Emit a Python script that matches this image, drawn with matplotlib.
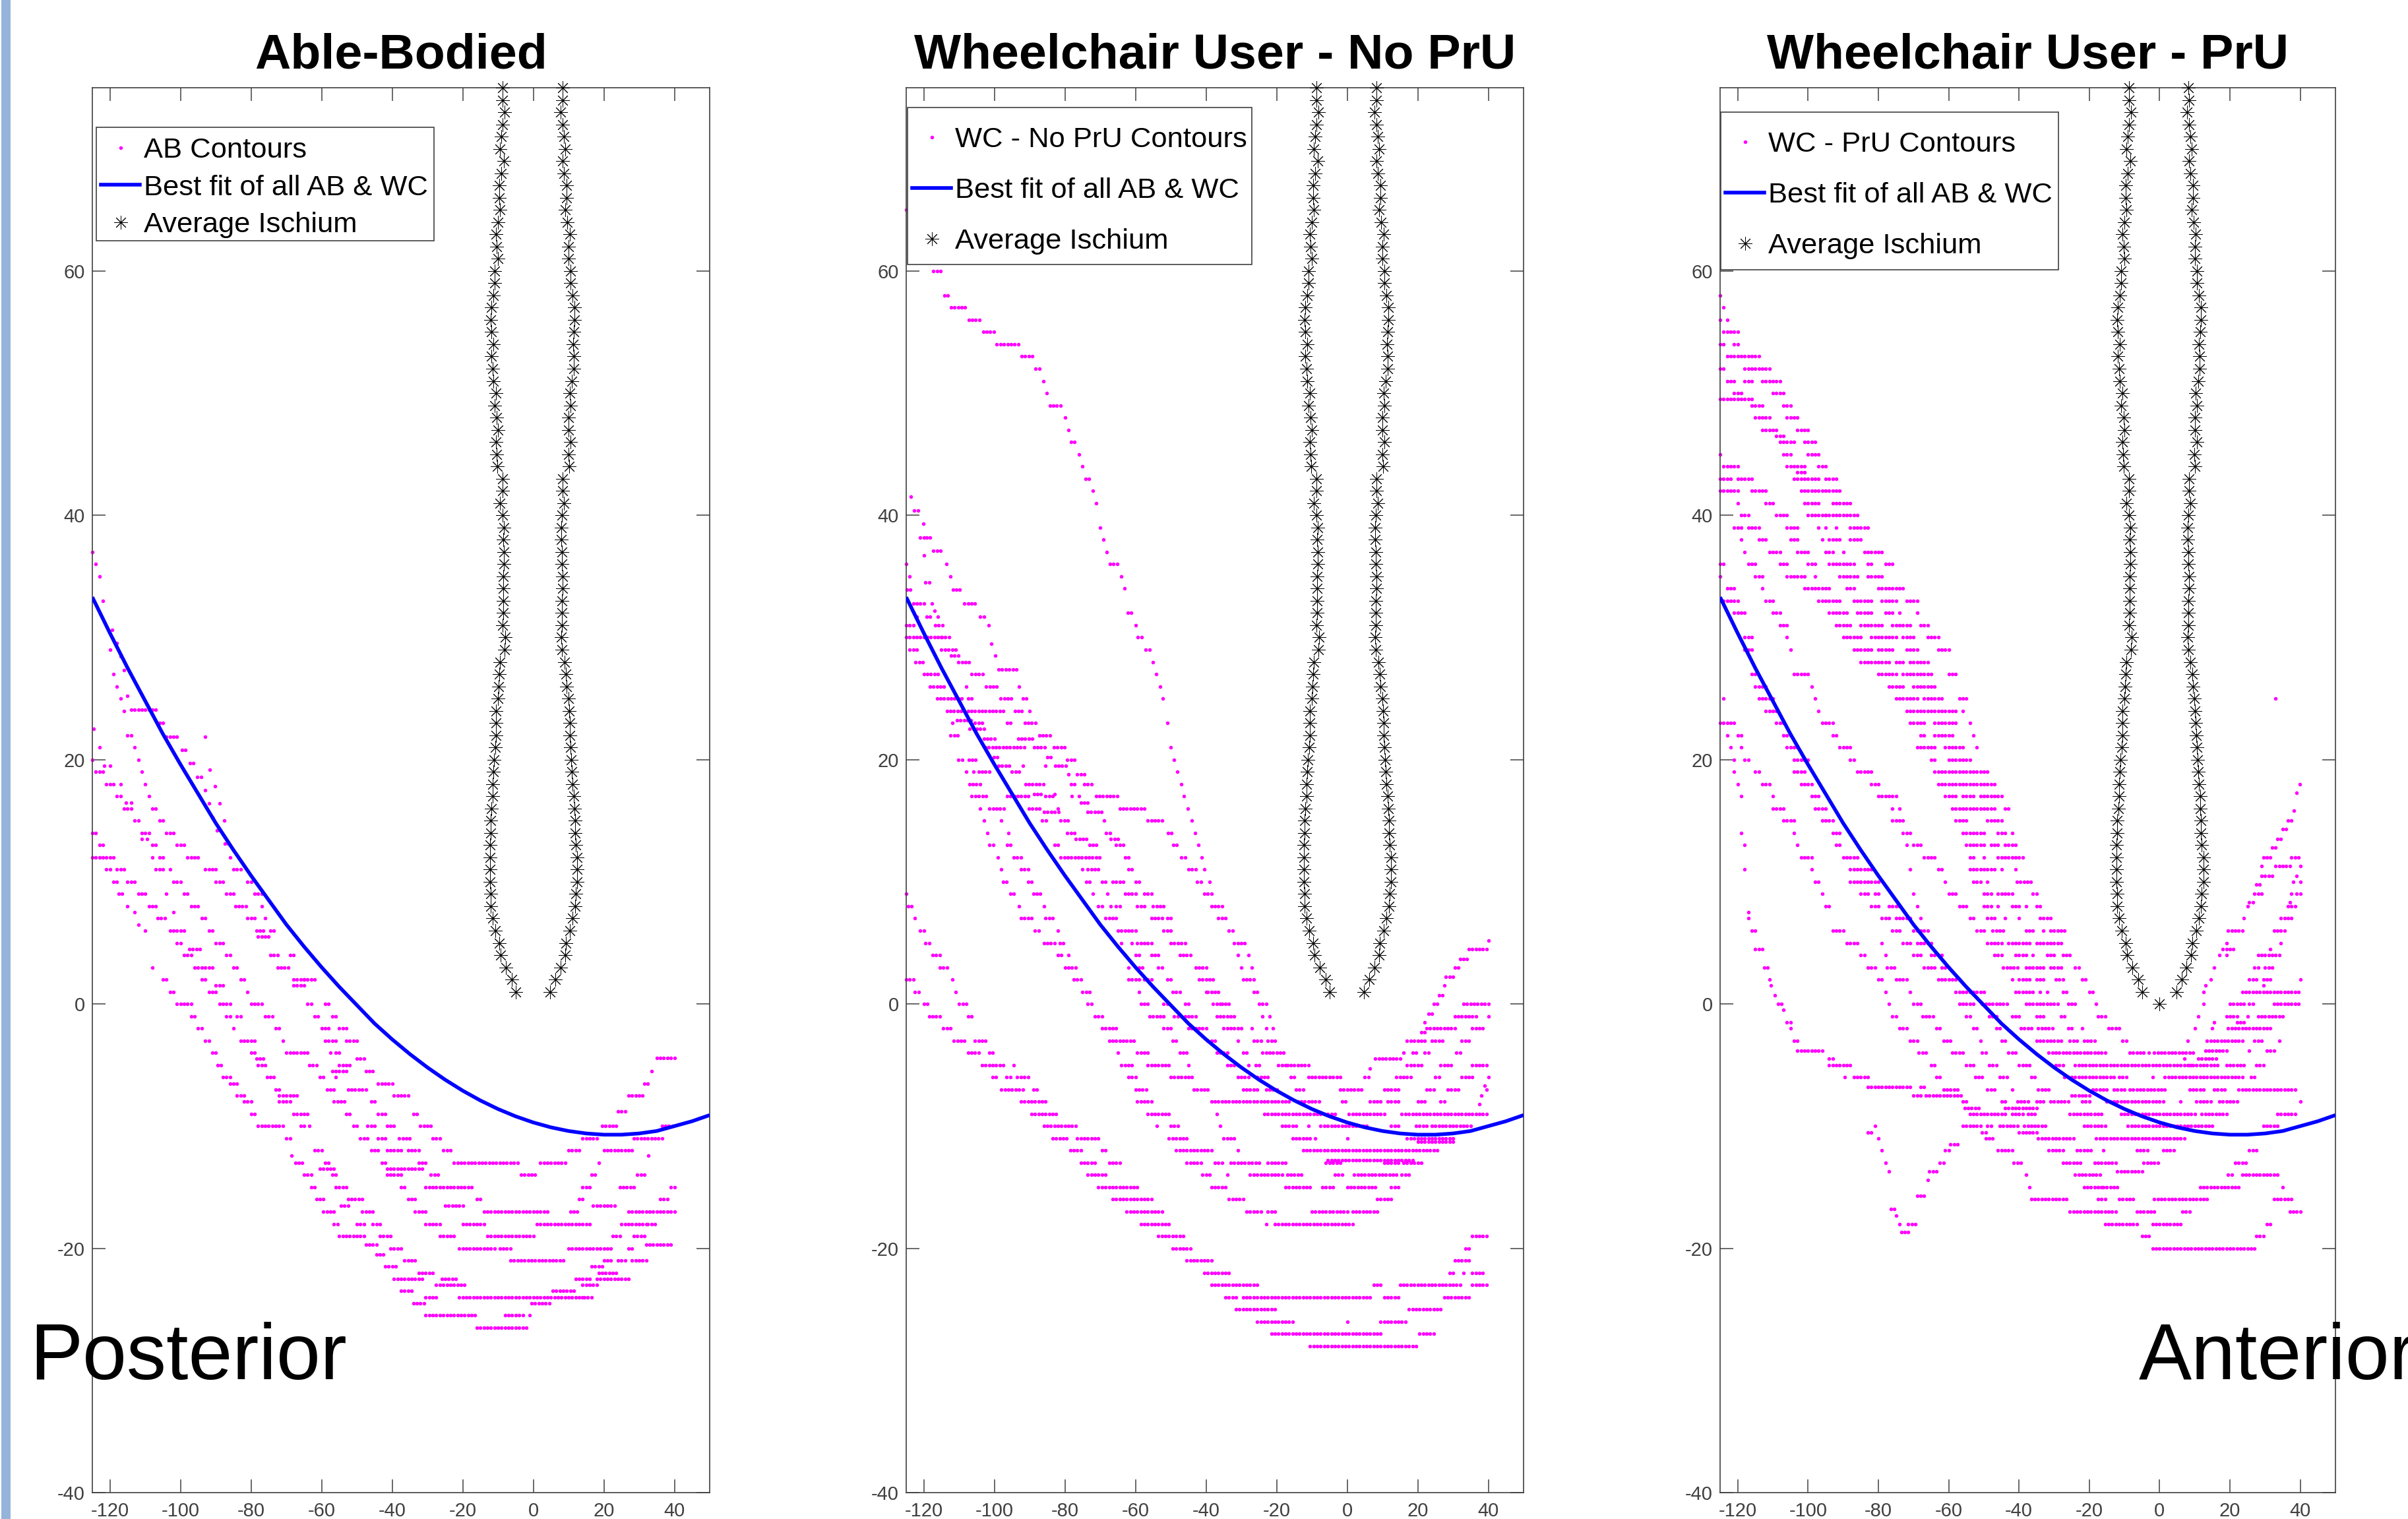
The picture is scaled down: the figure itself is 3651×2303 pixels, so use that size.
import numpy as np
import matplotlib
matplotlib.use('Agg')
import matplotlib.pyplot as plt
from matplotlib.lines import Line2D
from matplotlib.patches import Rectangle

plt.rcParams['font.family'] = ['Liberation Sans', 'DejaVu Sans']
plt.rcParams['axes.unicode_minus'] = False

x_ticks = [-120, -100, -80, -60, -40, -20, 0, 20, 40]
y_ticks = [-40, -20, 0, 20, 40, 60]
titles = ['Able-Bodied', 'Wheelchair User - No PrU', 'Wheelchair User - PrU']
contour_labels = ['AB Contours', 'WC - No PrU Contours', 'WC - PrU Contours']

# best fit curve
fit_x = [-125, -120, -115, -110, -105, -100, -95, -90, -85, -80, -75, -70, -65, -60, -55, -50, -45, -40,
         -35, -30, -25, -20, -15, -10, -5, 0, 5, 10, 15, 20, 25, 30, 35, 40, 45, 50]
fit_y = [33.3, 30.35, 27.5, 24.8, 22.1, 19.6, 17.2, 14.8, 12.6, 10.5, 8.5, 6.5, 4.7, 3.0, 1.4, -0.1, -1.6, -2.9,
         -4.1, -5.2, -6.2, -7.1, -7.9, -8.6, -9.2, -9.7, -10.1, -10.4, -10.6, -10.7, -10.7, -10.6, -10.4, -10.0, -9.6, -9.1]

# average ischium, one star per mm of height from 75 down to 1
isch_y = [75, 74, 73, 72, 71, 70, 69, 68, 67, 66, 65, 64, 63, 62, 61, 60, 59, 58, 57, 56, 55, 54, 53, 52, 51,
          50, 49, 48, 47, 46, 45, 44, 43, 42, 41, 40, 39, 38, 37, 36, 35, 34, 33, 32, 31, 30, 29, 28, 27, 26,
          25, 24, 23, 22, 21, 20, 19, 18, 17, 16, 15, 14, 13, 12, 11, 10, 9, 8, 7, 6, 5, 4, 3, 2, 1]
isch_left = [-8.75, -8.75, -8.1, -8.75, -9, -9.4, -8.4, -9, -9.7, -9.7, -9.4, -10, -10.6, -10.3, -10, -11, -11, -11.25,
             -11.9, -12, -11.9, -11.25, -11.9, -11.6, -11.25, -10.6, -10.9, -10.3, -10, -10.6, -10.4, -10.2, -8.7, -8.7,
             -9.4, -8.7, -8.3, -8.5, -8.3, -8.3, -8.5, -8.5, -8.5, -8.5, -8.7, -8, -8.2, -9.4, -9.6, -9.9, -10.1, -10.5,
             -10.5, -10.5, -10.8, -11.2, -11.3, -11.5, -11.6, -11.8, -12, -12, -12.2, -12.2, -12.2, -12.2, -12, -12,
             -11.5, -10.7, -9.7, -9.2, -7.8, -6, -5]
isch_right = [8.25, 8.4, 7.8, 8.4, 8.75, 9.06, 8.4, 8.75, 9.4, 9.4, 9.06, 9.7, 10.3, 10, 10, 10.6, 10.6, 11.1,
              11.75, 11.75, 11.5, 11.25, 11.4, 11.4, 10.9, 10.3, 10.6, 10, 10, 10.6, 9.9, 10.1, 8.4, 8.4,
              8.65, 8.2, 7.9, 7.9, 8.2, 8.2, 8.4, 8.4, 8.2, 8.2, 8.2, 7.9, 8.2, 8.8, 9.3, 9.4, 9.9, 10.1,
              10.3, 10.4, 10.6, 10.8, 11, 11.2, 11.5, 11.6, 11.8, 11.8, 12, 12.4, 12.4, 12.4, 12, 11.8,
              11.1, 10.4, 9.3, 9, 7.7, 6.3, 4.8]
# the PrU panel has one extra star at the bottom
extra_star_y = [0]
extra_star_x = [0]

# contour dots by row: (height, [x or (first x, last x) of a 1 mm run])
ab_rows = [
    (37, [-125]), (36, [-124]), (35, [-123]), (33, [-122]), (29, [-120]), (27, [-119]), (26, [-118]), (25, [-117]), (24, [-116]),
    (30.6, [-119.4]), (29.55, [-118.1]), (28.45, [-117]), (27.35, [-116]), (25.2, [-115]), (24.1, [(-114, -107)]),
    (23, [(-106, -105)]), (21.9, [(-104, -101), -93]), (20.8, [(-99.6, -98.6)]), (19.7, [(-97.4, -96.4)]),
    (18.6, [(-95.2, -94.2)]), (17.5, [-93]), (16.4, [-92, -88.9]), (15.3, [-90.9]), (14.2, [(-89.7, -88.7)]),
    (13.1, [(-87.5, -86.5)]), (19.15, [-91.7]), (17.8, [-90.2]), (15, [-87.6]),
    (22.5, [-124.6]), (22, [(-115, -114)]), (21, [-123, -113]), (20, [-125, -112]), (19.5, [-121.6, -120]),
    (19, [(-124, -122), -111]), (18, [(-121, -119), -117, -110]), (17, [(-118, -117), -109]), (16.5, [-115.5, -114]),
    (16, [(-116, -114), (-108, -107)]), (15, [(-113, -112), (-106, -105)]), (14, [(-125, -124), (-111, -109), (-104, -102)]),
    (13.5, [-111, -109.5]), (13, [(-123, -122), (-108, -107), (-101, -99)]),
    (12, [(-125, -119), -108, (-106, -105), (-98, -95), -86]),
    (11, [(-121, -120), (-118, -116), (-107, -105), -103, (-93, -90), (-85, -83)]),
    (10, [(-119, -118), (-115, -113), (-102, -100), (-90, -88), (-81, -80)]),
    (9, [(-117.5, -116.5), (-112, -110), -104, (-99, -98), (-87, -85), (-79, -77)]),
    (8, [-115, (-109, -107), (-97, -95), (-84.5, -81.5), -77]), (7.5, [-113, -102]),
    (7, [(-106.5, -104.5), (-94, -93), (-81, -79), -76]), (6.5, [-112]),
    (6, [-110, (-103, -99), (-92, -91), (-78.5, -76.5), (-74.5, -73.5)]), (5.5, [(-78, -75)]),
    (5, [(-101, -100), (-90, -88)]), (4.5, [(-97.5, -94.5)]),
    (4, [(-99, -97), (-87, -86), (-74.5, -72.5), (-69, -68)]),
    (3, [-108, (-96, -95), (-94, -91), (-85, -84), (-72.5, -69.5)]),
    (2, [(-105, -104), (-94, -93), (-83, -82), (-68, -65), (-65, -62)]), (1.5, [(-90, -88), (-68, -65)]),
    (1, [(-103, -102), (-92, -90), -81]),
    (0, [(-101, -97), (-89, -87), -86, (-80, -77), (-64, -63), (-59, -58)]),
    (-1, [(-97, -96), (-87, -86), (-84, -83), (-76, -74), (-62, -61), (-57, -56)]),
    (-2, [(-95, -94), -85, (-73, -72), (-60, -58), (-55, -53)]),
    (-3, [(-93, -92), (-83, -79), -71, (-59, -58), (-57, -56), (-53, -50)]),
    (-4, [(-91, -90), (-80, -79), (-70, -64), -57.5, (-56, -55)]),
    (-4.5, [(-78.5, -76.5), (-50, -48)]), (-4.4, [(35, 40)]),
    (-5, [(-89.5, -88.5), (-78, -76), (-63.5, -61), (-55, -52)]),
    (-5.5, [(-57, -53), (-47.5, -45), 33.5]),
    (-6, [(-88, -86), (-75.5, -73), (-60.5, -59), -56]),
    (-6.5, [(-86, -84), (-44, -40), (31.5, 33)]),
    (-7, [(-73, -72), (-52.5, -49), (-48.5, -47), (-58.5, -56.5)]),
    (-7.5, [(-84, -82), (-72, -67), (-39.5, -35), (27, 31)]),
    (-8, [(-56.5, -53.5), (-82, -80), (-72, -69), (-46, -44.5)]),
    (-8.8, [(24, 26.5)]),
    (-9, [(-68, -64), (-53, -51.5), (-44, -41.5), (-34, -33), (-80, -78.5)]),
    (-10, [(-78, -71), (-66, -64.5), -63.5, (-51, -50), (-47, -45), (-41.5, -39), (-32, -29), (19.5, 23.5), (36.5, 40)]),
    (-11, [(-49, -47), (-44, -42), (-38, -35), (-28.5, -26), (-70, -69), (14, 18.5), (28.5, 36.5)]),
    (-12, [(-62, -60), (-46, -43.5), (-41.5, -37.5), (-35.5, -32.5), (-25.5, -23), (10, 13), (20, 28)]),
    (-12.4, [-68.5, 32.7]),
    (-13, [(-67.5, -65), (-59, -57.5), (-43, -41.5), (-32.5, -30), (-22.5, -4), (2, 9), 18.5]),
    (-13.5, [(-60.5, -56.5), (-41.5, -31)]),
    (-14, [(-65, -63), (-57, -56), (-41.5, -37.5), (-29, -27), (-3.5, 1), (16.5, 18), (29.5, 32)]),
    (-15, [(-63, -61.5), (-56, -52.5), (-37.5, -36), (-30.5, -17), (14, 16), (24.5, 29), (39, 40)]),
    (-16, [(-61.5, -59.5), (-52.5, -48.5), (-35.5, -33.5), (-16, -14.5), (13, 14), (36, 38.5)]),
    (-16.5, [(-54.5, -52.5), (-25, -20), (17, 23.5)]),
    (-17, [(-59.5, -56.5), (-48.5, -45.5), (-33.5, -30.5), (-14, 4), (10.5, 12.5), (27, 40)]),
    (-18, [(-56.5, -55), (-50, -48), (-45.5, -43.5), (-30.5, -26.5), (-20, -13.5), (1, 16.5), (25, 32), (32.5, 35)]),
    (-19, [(-55, -47.5), (-43.5, -40.5), (-26.5, -22), (-13, 0.5), (22.5, 25), (28.5, 32)]),
    (-19.7, [(-47.5, -44.5), (32, 39)]),
    (-20, [(-40.5, -37), (-21, -10.5), (-9.5, -6.5), (10, 22.5), (27, 28)]),
    (-20.5, [(-44.5, -42)]),
    (-21, [(-36.5, -33), (-6.5, 9), (20, 22.5), (24, 26), (28, 32)]),
    (-21.5, [(-42, -39), (16.5, 20)]),
    (-22, [(-32.5, -28), (18.5, 23.5)]),
    (-22.5, [(-39.5, -31), (-26, -22), (12, 16), (18, 27)]),
    (-23, [(-27.5, -19.5), (14, 18)]),
    (-23.5, [(-37.5, -34.5), (5.5, 12)]),
    (-24, [(-30.5, -27), (-21, 14), (14.5, 16.5)]),
    (-24.5, [(-34, -30.5), (-0.5, 5)]),
    (-25.5, [(-30.5, -16.5), (-8, -2.5), -1]),
    (-26.5, [(-16, -2)]),
]

wc_nopru_rows = [
    (65, [-125]), (60, [(-117.3, -114.7)]), (58, [(-114.2, -112.8)]), (57, [(-112.3, -107.8)]), (56, [(-107.3, -103.7)]),
    (55, [(-103.2, -99.7)]), (54, [(-99.3, -92.6)]), (53, [(-92.3, -88.7)]), (52, [(-88.3, -86.8)]), (51, [-86.1]),
    (50, [-85.2]), (49, [(-84.3, -80.7)]), (48, [-80]), (47, [-79]), (46, [(-78.3, -76.7)]), (45, [-76.1]), (44, [-75]),
    (43, [(-74.2, -72.9)]), (42, [-72]), (41, [-71.1]), (39, [-70]), (38, [-69.1]), (37, [-68.1]), (36, [(-67.2, -64.7), -125, -113.6]),
    (35, [-64, -124, -112.5]), (34, [-63.1]), (32, [(-62.2, -60.7)]), (31, [-60, (-125, -122.7), (-116.8, -114.7), -101.6]),
    (30, [(-59.3, -57.7), (-125, -115), (-114.9, -112.3)]), (29, [(-57.1, -55.7), -124, (-123, -121.6), (-115, -110.6)]),
    (28, [-55, (-122.3, -119.5), (-110.2, -106.6)]), (27, [-54.1, (-120, -115.7), (-106.4, -102.8)]),
    (26, [-53.1, (-118.3, -114.2), -108, (-102.3, -98.8), -93]),
    (25, [-52.2, (-116.3, -108.7), (-107.5, -105.6), (-98.2, -94.8), (-92, -90.4)]),
    (23, [-51, -112, (-105.5, -102.6), (-96.4, -94.8), (-91.4, -87.7)]),
    (21, [-50.1, (-102.6, -91.6), (-88.8, -85.3), (-83.1, -79.8)]),
    (20, [-49.1, (-110.2, -108.7), (-107.3, -104.7), (-79.3, -76.7)]),
    (19, [-48.1, -108, -106, (-104.5, -100.7), (-95, -92.6)]),
    (18, [-47.1, (-107.1, -103.5), (-91.2, -85.7), (-78.3, -76.5), (-74.5, -71.7)]),
    (17, [-46.2, (-106.4, -102.1), (-96.4, -90.4), (-85.5, -82.6), -78, -76, (-71.2, -64.7)]),
    (16, [-45.2, -104, (-101.4, -97.3), (-90.2, -86.4), -82, (-64.5, -56.7)]),
    (15, [-44.1, -103, -98, (-86.4, -84.7), (-81.2, -78.8), -69, (-56.5, -51.7)]),
    (14, [-43.2, -102, -96, (-79.3, -76.9), (-68.3, -66.4), (-50.8, -49.8)]),
    (13, [-42.2, (-101.4, -99.7), (-96.4, -94.8), (-83, -82), (-73.1, -71), (-65.5, -63.4), (-49.3, -47.4)]),
    (41.5, [-123.7]), (40.4, [(-122.7, -121.1)]), (39.3, [-120.2]), (38.2, [(-121, -120), (-119.2, -117.8)]),
    (37.1, [(-117.3, -114.5)]), (36.7, [-119.9]), (34.5, [(-119.5, -118.2)]), (33.9, [(-124.8, -123.3), (-111.8, -109)]),
    (32.8, [(-123, -120), -117.8, (-108.5, -104.7)]), (32.2, [-117]), (31.7, [-122, (-119.2, -117.8), -116, (-104, -102.6)]),
    (29.5, [-100.9]), (28.5, [(-112.3, -110.2), -99.7]), (27.4, [(-98.8, -93.8)]), (24, [(-113.5, -96.9), (-94.2, -92), -90]),
    (23.2, [(-110.6, -106.2)]), (22.5, [(-107, -103)]), (22, [(-112.4, -109.7), (-87.3, -83.7)]), (21.7, [(-103, -99.5), (-93.3, -88.8)]),
    (20.2, [(-100.2, -98.6), (-85, -83.1)]), (19.5, [(-98.8, -95), -92, -85.5, (-82.8, -79.8)]), (18.8, [-79, (-76.5, -74.5)]),
    (17.2, [(-88.8, -86.6), -83]), (16.5, [(-75.5, -73)]), (15.7, [(-85.9, -81.2), (-73.6, -69.3)]), (13.5, [(-76.9, -73.1), (-67, -65)]),
    (12, [-41.3, -99, (-94.5, -91.6), (-81.2, -69.3), (-63, -62), (-47, -45.7)]),
    (11, [-98, (-92.5, -90.5), -75, (-73.5, -70), (-62, -60.5), (-45, -43), -40.5]),
    (10, [(-97.5, -96), (-90.5, -89), (-74, -73), (-69.5, -68.5), (-66.5, -63), (-60, -59), (-42.5, -41), -39]),
    (9, [-125, (-95.5, -94), (-89, -87), -72, -68, (-63, -60), (-57.5, -55.5), (-40.5, -38)]),
    (8, [(-124.5, -123), -93, -86, (-70.5, -69), -67, (-65.5, -64), (-59.5, -57), (-55, -52), (-38.5, -35)]),
    (7, [-122.5, (-92.5, -89), (-85.5, -83), (-68.5, -65), (-55.5, -52.5), (-51, -50), (-36.5, -34)]),
    (6, [(-121, -120), (-88.5, -87), -82, (-65, -60), (-52, -49.5), (-33.5, -32)]),
    (5, [(-119.5, -118), (-86, -83), (-81.5, -80), -64, -61, (-59.5, -55.5), (-50, -46), (-32, -29)]),
    (5.2, [40]), (4.5, [(34.5, 39.5)]),
    (4, [(-117.5, -115.5), (-82, -81), -79, -63, (-60, -59), (-55.5, -53.5), (-47.5, -44), -31, -28]),
    (3.7, [(32, 34)]),
    (3, [(-115.5, -113), (-80, -77), -62, (-59, -58), (-53.5, -52), (-43, -39.5), -30, -27, (30.5, 32)]),
    (2.2, [(28, 30)]),
    (2, [(-125, -123), -112, (-77.5, -75), (-62, -58.5), (-57.5, -55.5), (-51, -50), (-42, -38), (-29.5, -26)]),
    (1.5, [27.5]),
    (1, [(-122.5, -121), -111, (-75, -73), -59, (-49.5, -47), -40, (-39.5, -36), (-26.5, -25)]), (0.7, [(26, 27.5)]),
    (0, [(-120, -118.5), (-110, -108), (-73.5, -72), (-58.5, -56.5), (-52, -51), (-46, -44.5), (-38, -36), (-35.5, -33.5), (-25, -23), (24.5, 25.5), (33, 40)]),
    (-0.8, [(23, 24)]),
    (-1, [(-118.5, -115), (-107.5, -106), (-71.5, -69), (-56, -52), (-49, -43), (-37, -35), (-34, -32), -24, -22, (30.5, 37), 40]),
    (-1.5, [22]), (-2.3, [(21, 22)]),
    (-2, [(-114.5, -112), (-69.5, -65), (-52, -50), (-45, -39.5), (-35, -30), -27, -23, -21, (22.5, 31), (35.5, 39)]),
    (-3, [(-111.5, -108), (-105.5, -102), (-67.5, -65.5), (-64.5, -60), (-49.5, -48), (-39.5, -37), -31, (-26.5, -24), (-22.5, -20), (17, 22.5), (24, 27), (32.5, 35)]),
    (-4, [(-107.5, -104), (-101.5, -100), -65, (-59.5, -56.5), (-47.5, -45.5), (-37, -34), (-29.5, -28), (-24, -18), 16, (18.5, 20), (22, 23), (31, 32)]),
    (-4.5, [(8, 15)]), (-5.3, [6.5]),
    (-5, [(-103.5, -97), -94.5, (-64, -61), (-56.5, -50), -45, (-34, -31), -28, (-26, -25), (-19.5, -17), (-17, -11), (17, 21), (26.5, 30), (35.5, 40)]),
    (-6, [(-100.5, -99), (-96.5, -95), (-93.5, -90), (-62, -61), -60, (-50, -43.5), (-31, -27.5), (-25.5, -22.5), (-16, -15), (-11, -2), (5, 6), (14, 18), (25, 26.5), (32.5, 35.5), 40]),
    (-7, [(-98, -92), (-89, -87.5), -60, (-59, -57), (-43.5, -39), (-29.5, -25), (-23, -19.5), (-14.5, -12), (-2, 4.5), (10.5, 15), (22.5, 24.5), (28.5, 32), 39.5]),
    (-6.7, [39]), (-7.5, [38]), (-8.2, [37.5]),
    (-8, [(-92.5, -85), (-59.5, -55), (-38.5, -16), (-14, -8), (-1.5, 0), (6.5, 10), (11.5, 15), (20, 22), (26.5, 28)]),
    (-9, [(-89.5, -82), (-56.5, -50), -37, (-23.5, -3), (0.5, 11), (15.5, 40)]),
    (-10, [(-86, -77), -54, (-50, -48), -36, (-18.5, -14), -11, (-7.5, 6), (12.5, 15), (19.5, 23), (24, 35)]),
    (-11, [(-83.5, -79), (-76.5, -70), (-50.5, -48.5), (-47.5, -45.5), (-35, -32), (-15.5, -10), -9, 0, (17, 30.5)]),
    (-11.3, [(20, 30)]),
    (-12, [(-78.5, -75), (-69.5, -68), (-48.5, -38), -31, (-12.5, 26)]),
    (-12.8, [(-5.5, 18.5)]),
    (-13, [(-75.5, -71), (-67.5, -64), (-45.5, -41.5), (-37.5, -35), (-33, -25), (-22.5, -17), (-6, -2), (10.5, 14.5), (16, 21)]),
    (-14, [(-73.5, -68), (-41, -39), -34, (-27.5, -18), (-17, -13), (-3.5, -1), (2, 14.5), (15.5, 18)]),
    (-15, [(-70.5, -59), (-38.5, -34), (-17.5, -10.5), (-7, -4), (0, 8), (12.5, 15)]),
    (-16, [(-66.5, -59.5), (-58.5, -55.5), (-33.5, -29), (8.5, 12.5)]),
    (-17, [(-62.5, -56.5), (-55.5, -52.5), (-28.5, -24), (-22.5, -20.5), (-10, 0), (1.5, 8.5)]),
    (-18, [(-58.5, -50.5), -23, (-20.5, 1.5)]),
    (-19, [(-53.5, -46.5), (35.5, 40)]),
    (-20, [(-49.5, -44.5), (33.5, 35)]),
    (-21, [(-45.5, -38.5), (30.5, 35)]),
    (-22, [(-40.5, -33.5), (29, 30), 33, (35.5, 38.5)]),
    (-23, [(-38.5, -25.5), (7.5, 10), (15, 32), (35.5, 40)]),
    (-24, [(-34.5, -31.5), (-29.5, 7), (10.5, 14.5), (27.5, 35)]),
    (-25, [(-31.5, -25.5), (-24.5, -20.5), (17.5, 27)]),
    (-26, [(-25.5, -21.5), (-20.5, -15.5), 0, (9.5, 17)]),
    (-27, [(-21.5, -0.5), (0.5, 9.5), (20.5, 24.5)]),
    (-28, [(-10.5, 20)]),
]

wc_pru_rows = [
    (58, [-125]), (57, [-124]), (56, [-125, -123]), (55, [(-124, -120)]), (54, [(-125, -124), (-121, -120)]), (53, [(-123, -114)]),
    (52, [(-125, -124), (-118, -111)]), (51, [(-123, -121), (-118, -116), (-113, -108)]), (50, [(-121, -119), (-110, -107)]),
    (49.5, [(-125, -116)]), (49, [(-116, -113), (-107, -105)]), (48, [(-115, -111), (-106, -103)]), (47, [(-113, -109), (-103, -100)]),
    (46.5, [(-109, -107)]), (46, [(-108, -104), (-101, -98)]), (45, [-125, (-107, -105), (-100, -97)]),
    (44, [(-124, -120), (-106, -101), (-97, -95)]), (43.5, [(-103, -101)]), (43, [(-125, -122), (-120, -116), (-104, -97), (-95, -92)]),
    (42, [(-125, -120), (-116, -112), (-102, -101), (-100, -98), (-97, -91)]), (41, [-120, (-112, -110), (-101, -100), (-99, -97), (-93, -88)]),
    (40, [(-119, -117), (-109, -106), (-100, -95), (-95, -92), (-91, -86)]), (39, [(-121, -119), (-117, -114), (-106, -103), -97, -95, -92, (-88, -83)]),
    (38, [-119, (-114, -112), (-105, -103), -96, (-94, -91), (-88, -85)]), (37, [-118, (-111, -108), (-103, -100), (-95, -93), -90, (-84, -79)]),
    (36, [(-125, -124), (-117, -115), (-108, -106), (-100, -98), (-94, -91), (-90, -87), (-83, -82), (-78, -76)]),
    (35, [-125, (-115, -113), (-106, -101), -98, (-91, -89), (-88, -86), (-83, -79)]), (34, [(-123, -121), -113, (-101, -94), (-89, -87), (-80, -73)]),
    (33, [(-124, -120), (-112, -110), (-97, -91), (-87, -82), (-79, -75), (-72, -69)]), (32, [(-121, -118), (-110, -108), (-94, -89), (-86, -82), (-78, -76), -74, -69]),
    (31, [(-108, -106), (-92, -88), (-85, -79), (-76, -71), (-68, -66)]), (30, [(-118, -116), -106, (-90, -85), (-82, -75), (-73, -70), (-66, -63)]),
    (29, [(-118, -116), -105, (-87, -82), (-80, -76), (-72, -69), (-63, -60)]), (28, [(-85, -81), (-80, -77), (-75, -73), (-71, -66)]),
    (27, [(-116, -115), (-104, -100), (-80, -75), (-73, -70), (-69, -65), (-60, -58)]), (26, [(-115, -112), -99, (-77, -73), (-70, -69), (-68, -64)]),
    (25, [-124, (-114, -110), -98, (-75, -69), (-67, -62), (-57, -55), 33]), (24, [(-112, -109), -97, (-72, -64), (-63, -58), -56]),
    (23, [(-125, -121), (-109, -107), (-96, -93), (-71, -67), (-64, -58), -54]), (22, [-123, (-120, -119), (-107, -105), (-93, -92), (-68, -67), (-64, -62), (-61, -59), -53]),
    (21, [-122, -119, (-106, -103), (-91, -88), (-69, -64), (-61, -56), -52]), (20, [-121, (-118, -117), (-104, -100), (-88, -87), (-65, -64), (-60, -54)]),
    (19, [-121, (-115, -114), (-104, -101), (-86, -82), (-64, -59), (-58, -49)]), (18, [-120, (-113, -111), (-102, -99), (-82, -80), (-63, -49), (-48, -47), 39.8]),
    (17.3, [39]), (17, [-119, -110, (-99, -97), (-80, -75), (-61, -58), (-56, -53), (-51, -45)]),
    (16, [(-110, -107), (-98, -95), -76, -74, (-59, -54), (-53, -47), (-44, -43)]), (15.8, [38.2]), (15, [(-107, -104), (-96, -93), (-76, -73), (-58, -55), (-49, -45), (36.5, 38)]),
    (14.3, [(35, 36)]), (14, [-119, -104, (-93, -91), (-73, -71), (-56, -51), -50, (-46, -44), -42]), (13.5, [(33.5, 34.5)]),
    (13, [-118, -103, (-92, -91), -72, (-70, -68), (-55, -50), (-48, -46), (-44, -41)]), (12.8, [(32, 33)]),
    (12, [(-102, -99), (-90, -86), (-67, -64), (-54, -53), -50, (-46, -39), (29.5, 32), (37.5, 40)]),
    (11.3, [29, (33, 37), 40]), (11, [-118, -99, (-88, -82), -71, (-63, -62), (-54, -47), -45, -41]),
    (10.5, [(29, 32.5), 39]), (10, [(-98, -97), (-88, -85), (-85, -83), (-82, -80), -61, (-53, -51), -49, (-40.6, -36.6), 40, 38]),
    (9.8, [(27.5, 28.5)]), (9, [-96, (-85, -83), (-81, -80), -70, (-60, -58), (-50, -48), (-46, -42), (-36, -35), (27, 29), 37.5, 39, 40]),
    (8.3, [(25.5, 27), 37]), (8, [(-95, -94), (-82, -80), (-77, -74), -69, (-57, -55), (-50, -48), -46, (-42, -40), -38, (-35, -34), 25, (36.5, 39)]),
    (7.5, [-117]), (7, [-117, (-79, -77), (-75, -71), -68, (-54, -53), (-49, -47), -44, -40, (-34, -31), 24, (34.5, 38)]),
    (6, [(-116, -115), (-93, -90), (-76, -74), (-70, -66), (-52, -50), (-47.5, -44), (-38, -36), -33, (-31, -27), (19.5, 23.5), (32.5, 36)]),
    (5, [(-89, -86), -79, (-73, -71), (-69, -65), (-49, -44.5), (-43, -37), (-35, -27.5), 19, 34.5]), (4.5, [(-115, -113), (18, 21), 31.5]),
    (4, [(-85, -84), -78, (-70, -68), (-65, -61.5), (-47, -45), (-41, -38), -36, (-32, -30), (-27.5, -25), 17, 19, (28, 34)]),
    (3, [(-112.5, -111), (-83, -80.5), (-77.5, -75.5), (-67, -64), (-62, -60), (-44.5, -40.5), (-38, -33), (-31, -27.5), (-24, -23), 15.5, (27, 28), (30, 32.5)]),
    (2, [-111, (-80, -78.5), (-75, -71.5), (-63, -57), -42, (-40, -36.5), (-35, -33), (-29.5, -27), (-22, -21), 14.5, (25.5, 28), (29.5, 32), 40]),
    (1.5, [-110.5, 13, 29.5]), (1, [-78, -71, (-58, -50), (-41, -36), -34, -32, (-27.5, -26), (-20, -19), 12.5, (23.5, 40)]), (0.7, [-109.5]),
    (0, [(-108.5, -107.5), -77, (-70, -68), (-57, -53), (-50.5, -47), (-46.5, -43), (-38, -30), -29, (-26, -24), -18, 12.5, (20, 24), (25.5, 27), (32.5, 40)]),
    (-0.5, [-107]), (-1, [(-76, -75), (-67.5, -64), (-55, -54), (-48.5, -46.5), (-42, -40), (-35, -33), (-28, -27), (-17.5, -15), 11, (19, 22), 25, (28, 35)]),
    (-1.5, [(-106, -105), 15.5, (22, 24)]), (-2, [-105, (-74, -72), (-63.5, -62), (-53, -52), (-46.5, -45), (-39.5, -36), (-34.5, -30), (-26, -25), -22, (-14.5, -11), 10, 15, (19.5, 32)]),
    (-3, [(-104, -103), (-71, -69), (-61.5, -59.5), -51, (-45, -44), (-35, -28), (-25.5, -23), (-21.5, -18), (-10.5, -9), 8, (13.5, 24), (27, 29), 34]),
    (-3.8, [(-103, -96), (13, 19), 25.5, (30.5, 32.5)]), (-4, [(-68.5, -66), (-59, -55.5), (-50.5, -49), (-43, -41), (-31.5, -15), (-8.5, -4.5), -3, (-1.5, 10)]),
    (-4.5, [(-94, -93), 7, (11, 16.5)]), (-5, [(-94, -90), (-89, -88), (-65, -64), (-55, -53), (-48.5, -46), (-40, -37), (-29.5, -27), (-24, -21.5), (-21, 9), (8.5, 16.5), (19, 24), (27.5, 30)]),
    (-6, [-89.5, (-87, -83), (-63.5, -62), (-52.5, -50), (-45.5, -43), (-36.5, -35), (-27, -21.5), (-21, -13), (-11.5, -9), -2, (1.5, 24), (26, 27)]),
    (-6.8, [(-83, -70.5), (-68, -67)]), (-7, [(-61.5, -57), (-49, -46.5), -42, (-34.5, -31), (-19, -15), (-13, -10), (-8.5, 2), (8.5, 13), (15.5, 19), (22.5, 39)]),
    (-7.5, [(-70, -68), (-66.5, -56.5), (-25, -20)]), (-8, [(-56, -55), (-45, -44), (-40.5, -37.5), (-35, -33), (-31, -25.5), (-22, -19.5), (-15, 1), 6, (10.5, 15), (17, 22), 40]),
    (-8.5, [(-55.5, -51), (-44, -35)]), (-9, [(-54, -44), (-42, -38.5), (-37.5, -35), (-25.5, -16.5), (-11, 10), (12, 19), (33.5, 39)]),
    (-10, [-81, (-56, -50.5), (-45.5, -40), (-49, -48), (-38.5, -32.5), (-21.5, -15), (-9, 15), (29.5, 33.5)]), (-10.5, [(-83, -81.5), (-50.5, -49.5), (-40, -35)]),
    (-11, [-80, (-49.5, -47), (-34.5, -24), (-18, 7)]), (-11.5, [(-59.5, -57)]), (-12, [-79, (-61, -60), (-46, -42), (-31.5, -27), (-23.5, -19), -16, (-6.5, -3), (1, 4.5), (25.5, 28)]),
    (-13, [-78, (-62.5, -61.5), (-41.5, -39), (-27.5, -22), (-18.5, -16.5), (-15.5, -12), (-4.5, 0), (21.5, 25)]), (-13.7, [-77, (-65.5, -63), (-12, -4.5)]),
    (-14, [-38, (-24, -17), (19.5, 21), (23.5, 34)]), (-14.4, [-66]), (-15, [-37, (-21.5, -16.5), (-16, -12), (11.5, 23), 35]), (-15.7, [(-69, -67)]),
    (-16, [(-36.5, -26), (-17.5, -15), (-11.5, -7), (-1.5, 14), (32.5, 38)]), (-16.8, [(-76.5, -75.5)]), (-17, [(-25.5, -12.5), (-6.5, -1.5), (6.5, 9), (37, 40)]),
    (-17.3, [-75]), (-18, [-74, (-71.5, -69.5), (-15.5, -6), (-2, 6), (30.5, 32)]), (-18.7, [(-73.5, -71.5)]), (-19, [(-5, -3), (27.5, 30)]), (-20, [(-2, 27)]),
]

W, H = 3651, 2303
axes_left = [140, 1374, 2608]
axes_right = [1076, 2310, 3541]
axes_top, axes_bottom = 133, 2263
# legend frames in pixels: left, top, right, bottom
legend_boxes = [(146, 193, 658, 365), (1376, 163, 1898, 401), (2609, 170, 3121, 409)]
legend_spacing = [0.38, 0.85, 0.85]
legend_top_pad = [15, 29, 29]
MAGENTA = '#ff00ff'
STAR = (8, 2, 0)


def row_points(rows):
    xs, ys = [], []
    for y, runs in rows:
        for r in runs:
            a, b = r if isinstance(r, tuple) else (r, r)
            for x in np.arange(a, b + 0.01, 1.0):
                xs.append(x)
                ys.append(y)
    return xs, ys


fig = plt.figure(figsize=(W / 100, H / 100), dpi=100)
fig.patches.append(Rectangle((2 / W, 0), 14 / W, 1, transform=fig.transFigure, color='#95b3db', lw=0))

all_rows = [ab_rows, wc_nopru_rows, wc_pru_rows]
for i in range(3):
    ax = fig.add_axes([axes_left[i] / W, 1 - axes_bottom / H,
                       (axes_right[i] - axes_left[i]) / W, (axes_bottom - axes_top) / H])
    xs, ys = row_points(all_rows[i])
    ax.plot(xs, ys, 'o', color=MAGENTA, ms=4.0, mew=0, clip_on=False, zorder=2)
    ax.plot(fit_x, fit_y, color='#0000ff', lw=4.0, zorder=3, solid_capstyle='butt')
    ax.plot(isch_left, isch_y, ls='', marker=STAR, color='k', ms=15, mew=0.7, clip_on=False, zorder=4)
    ax.plot(isch_right, isch_y, ls='', marker=STAR, color='k', ms=15, mew=0.7, clip_on=False, zorder=4)
    if i == 2:
        ax.plot(extra_star_x, extra_star_y, ls='', marker=STAR, color='k', ms=15, mew=0.7, zorder=4)

    ax.set_xlim(-125, 50)
    ax.set_ylim(-40, 75)
    ax.set_xticks(x_ticks)
    ax.set_yticks(y_ticks)
    ax.tick_params(direction='in', length=14.4, width=1.1, color='#404040', labelcolor='#404040',
                   labelsize=21, right=True, top=True, pad=10)
    ax.tick_params(axis='y', pad=8)
    for s in ax.spines.values():
        s.set_color('#404040')
        s.set_linewidth(1.2)
    ax.set_title(titles[i], fontsize=54.2, fontweight='bold', pad=21, color='k')

    # frame first, legend text on top of it
    l, t, r, b = legend_boxes[i]
    ax.add_patch(Rectangle((l / W, 1 - b / H), (r - l) / W, (b - t) / H, transform=fig.transFigure,
                           facecolor='white', edgecolor='#404040', lw=1.2, clip_on=False, zorder=9))
    handles = [Line2D([], [], ls='', marker='o', color=MAGENTA, ms=4.0, mew=0),
               Line2D([], [], color='#0000ff', lw=4.0),
               Line2D([], [], ls='', marker=STAR, color='k', ms=15, mew=0.7)]
    labels = [contour_labels[i], 'Best fit of all AB & WC', 'Average Ischium']
    leg = ax.legend(handles, labels, loc='upper left', bbox_to_anchor=((l + 7) / W, 1 - (t + legend_top_pad[i]) / H),
                    bbox_transform=fig.transFigure, borderaxespad=0, fontsize=31.3, labelspacing=legend_spacing[i],
                    borderpad=0, handlelength=1.36, handletextpad=0.14, frameon=False)
    leg.set_zorder(10)

fig.text(45 / W, 1 - 2091 / H, 'Posterior', fontsize=86.5, color='k', va='baseline', ha='left', zorder=20)
fig.text(3243 / W, 1 - 2091 / H, 'Anterior', fontsize=86.5, color='k', va='baseline', ha='left', zorder=20)

fig.savefig('out.png', dpi=100)
